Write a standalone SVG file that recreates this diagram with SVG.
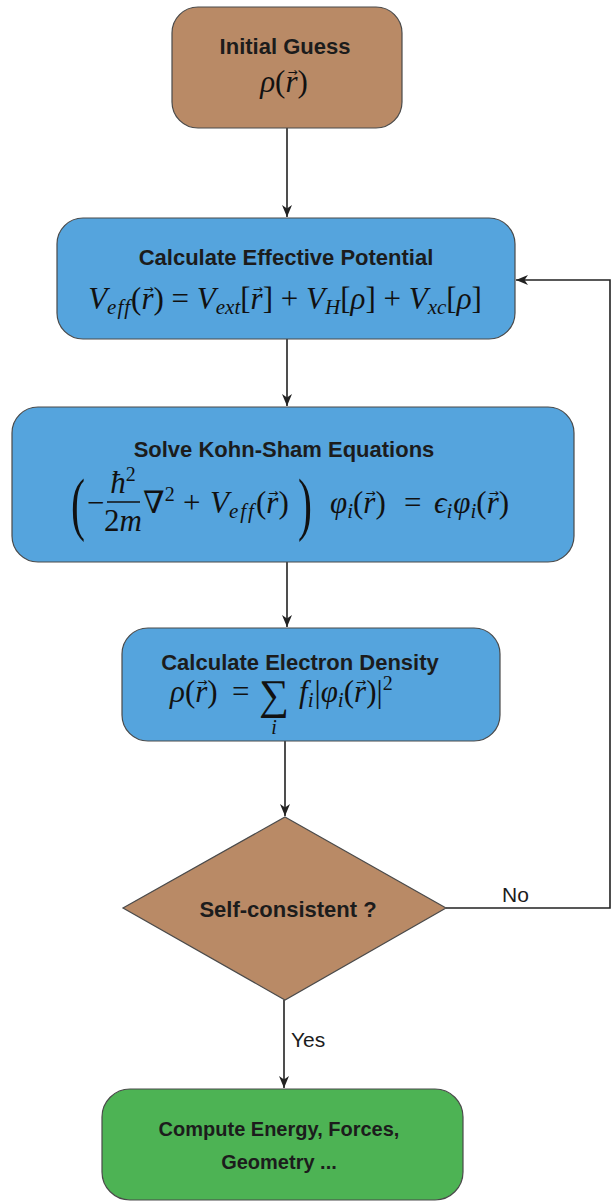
<svg xmlns="http://www.w3.org/2000/svg" width="612" height="1202" viewBox="0 0 612 1202">
<style>
.box{stroke:#4a4a4a;stroke-width:1.2}
.tan{fill:#b98a66}
.blue{fill:#55a4dd}
.green{fill:#4db354}
.t{font-family:"Liberation Sans",Arial,sans-serif;font-weight:bold;font-size:22px;fill:#1c1c1c;text-anchor:middle}
.lbl{font-family:"Liberation Sans",Arial,sans-serif;font-size:21px;fill:#1c1c1c}
.m{font-family:"Liberation Serif","DejaVu Serif",serif;font-size:31px;fill:#111}
.i{font-style:italic}
.v{font-family:"DejaVu Sans",sans-serif;font-style:normal;font-size:12px}
.edge{stroke:#222;stroke-width:1.6;fill:none}
</style>
<defs>
<marker id="ah" viewBox="0 0 12 10" refX="12" refY="5" markerWidth="12" markerHeight="10" markerUnits="userSpaceOnUse" orient="auto" overflow="visible">
<path d="M0,0 L12,5 L0,10 L3.5,5 Z" fill="#222"/>
</marker>
</defs>
<g id="connectors">
<line class="edge" x1="287" y1="128" x2="287" y2="217" marker-end="url(#ah)"/>
<line class="edge" x1="287" y1="339" x2="287" y2="406" marker-end="url(#ah)"/>
<line class="edge" x1="287" y1="562" x2="287" y2="627" marker-end="url(#ah)"/>
<line class="edge" x1="285" y1="741" x2="285" y2="816" marker-end="url(#ah)"/>
<polyline class="edge" points="446,908 610,908 610,280 516,280" marker-end="url(#ah)"/>
<line class="edge" x1="284" y1="1000" x2="284" y2="1088" marker-end="url(#ah)"/>
<text class="lbl" x="502" y="902">No</text>
<text class="lbl" x="291" y="1047">Yes</text>
</g>
<g id="initial-guess">
<rect class="box tan" x="172" y="7" width="230" height="121" rx="26"/>
<text class="t" x="285" y="54">Initial Guess</text>
<text class="m" x="284" y="92" text-anchor="middle"><tspan class="i">ρ</tspan>(<tspan class="i">r</tspan><tspan class="v" dx="-10" dy="-16">→</tspan><tspan dy="16">)</tspan></text>
</g>
<g id="effective-potential">
<rect class="box blue" x="57" y="218" width="458" height="121" rx="26"/>
<text class="t" x="286" y="265">Calculate Effective Potential</text>
<text class="m" x="285" y="309" text-anchor="middle"><tspan class="i">V</tspan><tspan class="i" font-size="21" dy="5" letter-spacing="1">eff</tspan><tspan dy="-5">(</tspan><tspan class="i">r</tspan><tspan class="v" dx="-10" dy="-16">→</tspan><tspan dy="16">) = </tspan><tspan class="i">V</tspan><tspan class="i" font-size="21" dy="5">ext</tspan><tspan dy="-5">[</tspan><tspan class="i">r</tspan><tspan class="v" dx="-10" dy="-16">→</tspan><tspan dy="16">] + </tspan><tspan class="i">V</tspan><tspan class="i" font-size="21" dy="5">H</tspan><tspan dy="-5">[</tspan><tspan class="i">ρ</tspan>] + <tspan class="i">V</tspan><tspan class="i" font-size="21" dy="5">xc</tspan><tspan dy="-5">[</tspan><tspan class="i">ρ</tspan>]</text>
</g>
<g id="kohn-sham">
<rect class="box blue" x="12" y="407" width="562" height="155" rx="26"/>
<text class="t" x="284" y="457">Solve Kohn-Sham Equations</text>
<text class="m" x="0" y="0" style="font-size:70px" transform="translate(71 527) scale(0.6 1)">(</text>
<text class="m" x="87" y="513">−</text>
<text class="m" x="123" y="493" text-anchor="middle"><tspan class="i">ħ</tspan><tspan font-size="20" dy="-12">2</tspan></text>
<line x1="107" y1="502" x2="140" y2="502" stroke="#111" stroke-width="1.4"/>
<text class="m" x="123" y="531" text-anchor="middle">2<tspan class="i">m</tspan></text>
<text class="m" x="143" y="513">∇<tspan font-size="20" dy="-12">2</tspan></text>
<text class="m" x="183" y="513">+</text>
<text class="m" x="210" y="513"><tspan class="i">V</tspan><tspan class="i" font-size="21" dy="5" letter-spacing="2">eff</tspan><tspan dy="-5">(</tspan><tspan class="i">r</tspan><tspan class="v" dx="-10" dy="-16">→</tspan><tspan dy="16">)</tspan></text>
<text class="m" x="0" y="0" style="font-size:70px" transform="translate(298 527) scale(0.6 1)">)</text>
<text class="m" x="330" y="513"><tspan class="i">φ</tspan><tspan class="i" font-size="21" dy="5">i</tspan><tspan dy="-5">(</tspan><tspan class="i">r</tspan><tspan class="v" dx="-10" dy="-16">→</tspan><tspan dy="16">)</tspan></text>
<text class="m" x="404" y="513">=</text>
<text class="m" x="434" y="513"><tspan class="i">ϵ</tspan><tspan class="i" font-size="21" dy="5">i</tspan><tspan class="i" dy="-5" dx="1">φ</tspan><tspan class="i" font-size="21" dy="5">i</tspan><tspan dy="-5">(</tspan><tspan class="i">r</tspan><tspan class="v" dx="-10" dy="-16">→</tspan><tspan dy="16">)</tspan></text>
</g>
<g id="electron-density">
<rect class="box blue" x="122" y="628" width="378" height="113" rx="26"/>
<text class="t" x="300" y="670">Calculate Electron Density</text>
<text class="m" x="170" y="702"><tspan class="i">ρ</tspan>(<tspan class="i">r</tspan><tspan class="v" dx="-10" dy="-16">→</tspan><tspan dy="16">)</tspan></text>
<text class="m" x="232" y="702">=</text>
<text class="m" x="274" y="709" style="font-size:42px" text-anchor="middle">∑</text>
<text class="m i" x="274" y="734" style="font-size:20px" text-anchor="middle">i</text>
<text class="m" x="299" y="702"><tspan class="i">f</tspan><tspan class="i" font-size="21" dy="5">i</tspan><tspan dy="-5" dx="1">|</tspan><tspan class="i">φ</tspan><tspan class="i" font-size="21" dy="5">i</tspan><tspan dy="-5">(</tspan><tspan class="i">r</tspan><tspan class="v" dx="-10" dy="-16">→</tspan><tspan dy="16">)|</tspan><tspan font-size="20" dy="-12">2</tspan></text>
</g>
<g id="self-consistent">
<polygon class="box tan" points="285,817 446,908 285,1000 123,908"/>
<text class="t" x="288" y="917">Self-consistent ?</text>
</g>
<g id="compute">
<rect class="box green" x="102" y="1089" width="361" height="111" rx="28"/>
<text class="t" x="279" y="1136" style="font-size:20px">Compute Energy, Forces,</text>
<text class="t" x="279" y="1169" style="font-size:20px">Geometry ...</text>
</g>
</svg>
